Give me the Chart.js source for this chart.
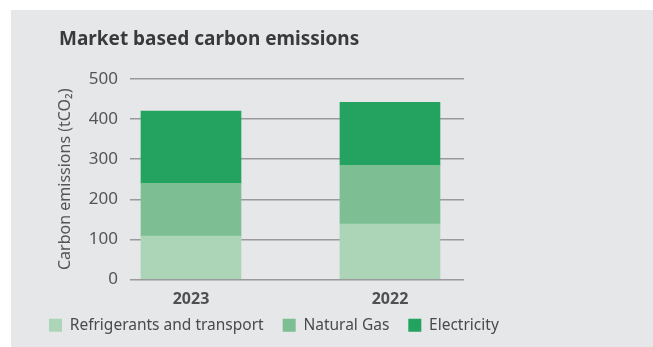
<!DOCTYPE html>
<html>
<head>
<meta charset="utf-8">
<script src="https://cdn.jsdelivr.net/npm/chart.js@4.4.1/dist/chart.umd.min.js"></script>
<style>
  body { margin: 0; background: #fff; }
  #panel { position: absolute; left: 11px; top: 10px; width: 642px; height: 337px; background: #e6e7e9; }
  #title { position: absolute; left: 48px; top: 19px; font: bold 19px "Noto Sans", sans-serif; line-height: 19px; color: #3a3a3c; white-space: nowrap; }
  #wrap { position: absolute; left: 0; top: 0; width: 642px; height: 337px; }
</style>
</head>
<body>
<div id="panel">
  <div id="wrap"><canvas id="chart"></canvas></div>
  <div id="title">Market based carbon emissions</div>
</div>
<script>
// data
const years = ['2023', '2022'];
const refrigerants = [108, 138];
const naturalGas = [132, 147];
const electricity = [180, 157];
const yTicks = [0, 100, 200, 300, 400, 500];

const seriesNames = ['Refrigerants and transport', 'Natural Gas', 'Electricity'];
const seriesColors = ['#acd5b7', '#7dbe93', '#23a35f'];
const seriesValues = [refrigerants, naturalGas, electricity];

const ctx = document.getElementById('chart').getContext('2d');

const datasets = seriesValues.map((vals, i) => ({
  label: seriesNames[i],
  data: vals.map((v, j) => ({ x: j, y: v })),
  backgroundColor: seriesColors[i],
  borderWidth: 0,
  barThickness: 100
}));

// x axis box is kept short so the legend sits close under it;
// stretch its bottom after layout so the year labels aren't clipped
const labelRoom = {
  id: 'labelRoom',
  afterLayout: chart => { chart.scales.x.bottom = chart.height; }
};

const myChart = new Chart(ctx, {
  type: 'bar',
  data: { datasets: datasets },
  plugins: [labelRoom],
  options: {
    responsive: true,
    maintainAspectRatio: false,
    animation: false,
    layout: { padding: { left: 19, right: 0, top: 69, bottom: 4 } },
    plugins: {
      legend: {
        position: 'bottom',
        align: 'start',
        labels: {
          boxWidth: 13,
          boxHeight: 13,
          padding: 19,
          color: '#4a4a4c',
          font: { family: 'Noto Sans', size: 15.5 }
        }
      },
      tooltip: { enabled: false }
    },
    scales: {
      x: {
        type: 'linear',
        stacked: true,
        offset: false,
        min: -0.3065,
        max: 1.372,
        afterFit: s => { s.height = 19; },
        grid: { display: false, drawTicks: false, offset: false },
        border: { display: false },
        ticks: {
          stepSize: 1,
          includeBounds: false,
          padding: 10,
          color: '#505052',
          font: { family: 'Noto Sans', size: 16, weight: 'bold' },
          callback: v => years[v] || ''
        }
      },
      y: {
        stacked: true,
        min: 0,
        max: 500,
        afterBuildTicks: s => { s.ticks = yTicks.map(v => ({ value: v })); },
        afterFit: s => { s.width = 100; },
        grid: { color: '#9a9a9c', lineWidth: 1.5, drawTicks: false },
        border: { display: false },
        ticks: {
          padding: 12,
          color: '#555557',
          font: { family: 'Noto Sans', size: 17 }
        },
        title: {
          display: true,
          text: 'Carbon emissions (tCO₂)',
          color: '#555557',
          padding: { top: 26, bottom: 4 },
          font: { family: 'Noto Sans', size: 16 }
        }
      },
      // empty right-hand space so the plot ends where the reference's does
      spacer: {
        position: 'right',
        afterFit: s => { s.width = 189; },
        grid: { display: false },
        border: { display: false },
        ticks: { display: false }
      }
    }
  }
});
</script>
</body>
</html>
